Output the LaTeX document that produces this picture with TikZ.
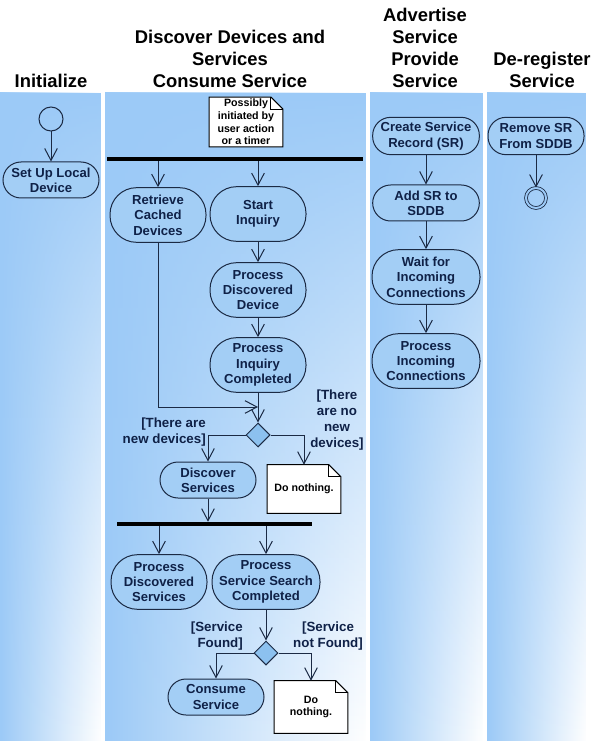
\documentclass[tikz,border=0pt]{standalone}
\usepackage{fontspec}
\setmainfont{Liberation Sans}
\usetikzlibrary{arrows.meta,shapes.geometric,fadings}
\definecolor{LaneBlue}{HTML}{9CCAF7}
\definecolor{NodeBlue}{HTML}{A3CEF5}
\definecolor{DiamondBlue}{HTML}{8CC1EF}
\definecolor{Ink}{HTML}{1B2A44}
\definecolor{TextNavy}{HTML}{0F2147}
\tikzfading[name=lanefade,top color=transparent!0,middle color=transparent!30,bottom color=transparent!100]
\pgfdeclarelayer{lanes}\pgfdeclarelayer{paper}\pgfsetlayers{lanes,paper,main}

\begin{document}
\begin{tikzpicture}[x=.75pt,y=-.75pt,
activity/.style={draw=Ink,line width=.75pt,fill=NodeBlue,text=TextNavy,font=\fontsize{9.8}{11.5}\selectfont\bfseries,align=center,inner sep=0pt,minimum width=72pt},
actshort/.style={activity,minimum height=27pt,rounded corners=13.5pt},
acttall/.style={activity,minimum height=41pt,rounded corners=20pt},
fork/.style={fill=black,inner sep=0pt,minimum height=3pt},
decision/.style={diamond,draw=Ink,line width=.75pt,fill=DiamondBlue,inner sep=0pt,minimum width=18pt,minimum height=18pt},
note/.style={text=black,font=\fontsize{8}{9.5}\selectfont\bfseries,align=center,inner sep=0pt,minimum width=55pt},
guard/.style={text=TextNavy,font=\fontsize{10}{12}\selectfont\bfseries,inner sep=0pt},
lanetitle/.style={font=\fontsize{13.8}{16.5}\selectfont\bfseries,align=center,anchor=south,inner sep=0pt},
flow/.style={draw=Ink,line width=.75pt,-{Straight Barb[length=9pt,width=9.5pt]}},
initial/.style={circle,draw=Ink,line width=.75pt,minimum size=18pt,inner sep=0pt},
final/.style={circle,draw=Ink,line width=.6pt,double=LaneBlue,double distance=1.5pt,minimum size=15pt,inner sep=0pt}]
\useasboundingbox(0,0)rectangle(597,741);
\begin{pgfonlayer}{lanes}
\foreach \a/\b in {0/101,105/366,370/483,487/586}{\shade[left color=LaneBlue,right color=white](\a,93)rectangle(\b,741);\fill[LaneBlue,path fading=lanefade](\a,93)rectangle(\b,741);}
\end{pgfonlayer}
\node[lanetitle](t1)at(51,88){Initialize};
\node[lanetitle](t2)at(230,88){Discover Devices and\\Services\\Consume Service};
\node[lanetitle](t3)at(425,88){Advertise\\Service\\Provide\\Service};
\node[lanetitle](t4)at(542,88){De-register\\Service};
\node[initial](start)at(51,119){};
\node[actshort](setup)at(51,180){Set Up Local\\Device};
\node[note,minimum height=37pt](busy)at(246,122){Possibly\\initiated by\\user action\\or a timer};
\node[fork,minimum width=192pt](fork1)at(235,159){};
\node[acttall](retr)at(158,215){Retrieve\\Cached\\Devices};
\node[acttall](sinq)at(258,214){Start\\Inquiry};
\node[acttall](pdev)at(258,290){Process\\Discovered\\Device};
\node[acttall](pinq)at(258,365){Process\\Inquiry\\Completed};
\coordinate(merge)at(258,407);
\node[decision](dec1)at(258,435){};
\node[guard,anchor=east,align=right](g1)at(206,432){[There are\\new devices]};
\node[guard,align=center](g2)at(337,420){[There\\are no\\new\\devices]};
\node[actshort](discsvc)at(208,480){Discover\\Services};
\node[note,minimum height=36pt](idle)at(304,489){Do nothing.};
\node[fork,minimum width=146pt](fork2)at(214.5,524){};
\node[acttall](pdsvc)at(159,582){Process\\Discovered\\Services};
\node[acttall,minimum width=81pt](pssc)at(266,582){Process\\Service Search\\Completed};
\node[decision](dec2)at(266,653){};
\node[guard,anchor=east,align=right](g3)at(243,636){[Service\\Found]};
\node[guard,align=center](g4)at(328,636){[Service\\not Found]};
\node[actshort](consume)at(216,697){Consume\\Service};
\node[note,minimum height=39pt](idle2)at(311,707){Do\\nothing.};
\node[actshort,minimum width=80pt,minimum height=28pt](create)at(426,136){Create Service\\Record (SR)};
\node[actshort,minimum width=80pt](addsr)at(426,203){Add SR to\\SDDB};
\node[acttall,minimum width=81pt](wait)at(426,277){Wait for\\Incoming\\Connections};
\node[acttall,minimum width=81pt](pinc)at(426,361){Process\\Incoming\\Connections};
\node[actshort,minimum height=28pt](remove)at(536,136){Remove SR\\From SDDB};
\node[final](end)at(536,198){};
\begin{pgfonlayer}{paper}
\foreach \n in {busy,idle,idle2}{\filldraw[fill=white,draw=black,line width=.75pt](\n.south west)--(\n.north west)--([xshift=-9pt]\n.north east)--([yshift=-9pt]\n.north east)--(\n.south east)--cycle;\draw[line width=.75pt]([xshift=-9pt]\n.north east)|-([yshift=-9pt]\n.north east);}
\end{pgfonlayer}
\draw[flow](start)--(setup);
\draw[flow](fork1.south-|retr.north)--(retr);
\draw[flow](fork1.south-|sinq.north)--(sinq);
\draw[flow](sinq)--(pdev);
\draw[flow](pdev)--(pinq);
\draw[flow](pinq)--(dec1);
\draw[flow](retr)|-(merge);
\draw[flow](dec1)-|(discsvc);
\draw[flow](dec1)-|(idle);
\draw[flow](discsvc)--(discsvc|-fork2.north);
\draw[flow](fork2.south-|pdsvc.north)--(pdsvc);
\draw[flow](fork2.south-|pssc.north)--(pssc);
\draw[flow](pssc)--(dec2);
\draw[flow](dec2)-|(consume);
\draw[flow](dec2)-|(idle2);
\draw[flow](create)--(addsr);
\draw[flow](addsr)--(wait);
\draw[flow](wait)--(pinc);
\draw[flow](remove)--(end);
\end{tikzpicture}
\end{document}
